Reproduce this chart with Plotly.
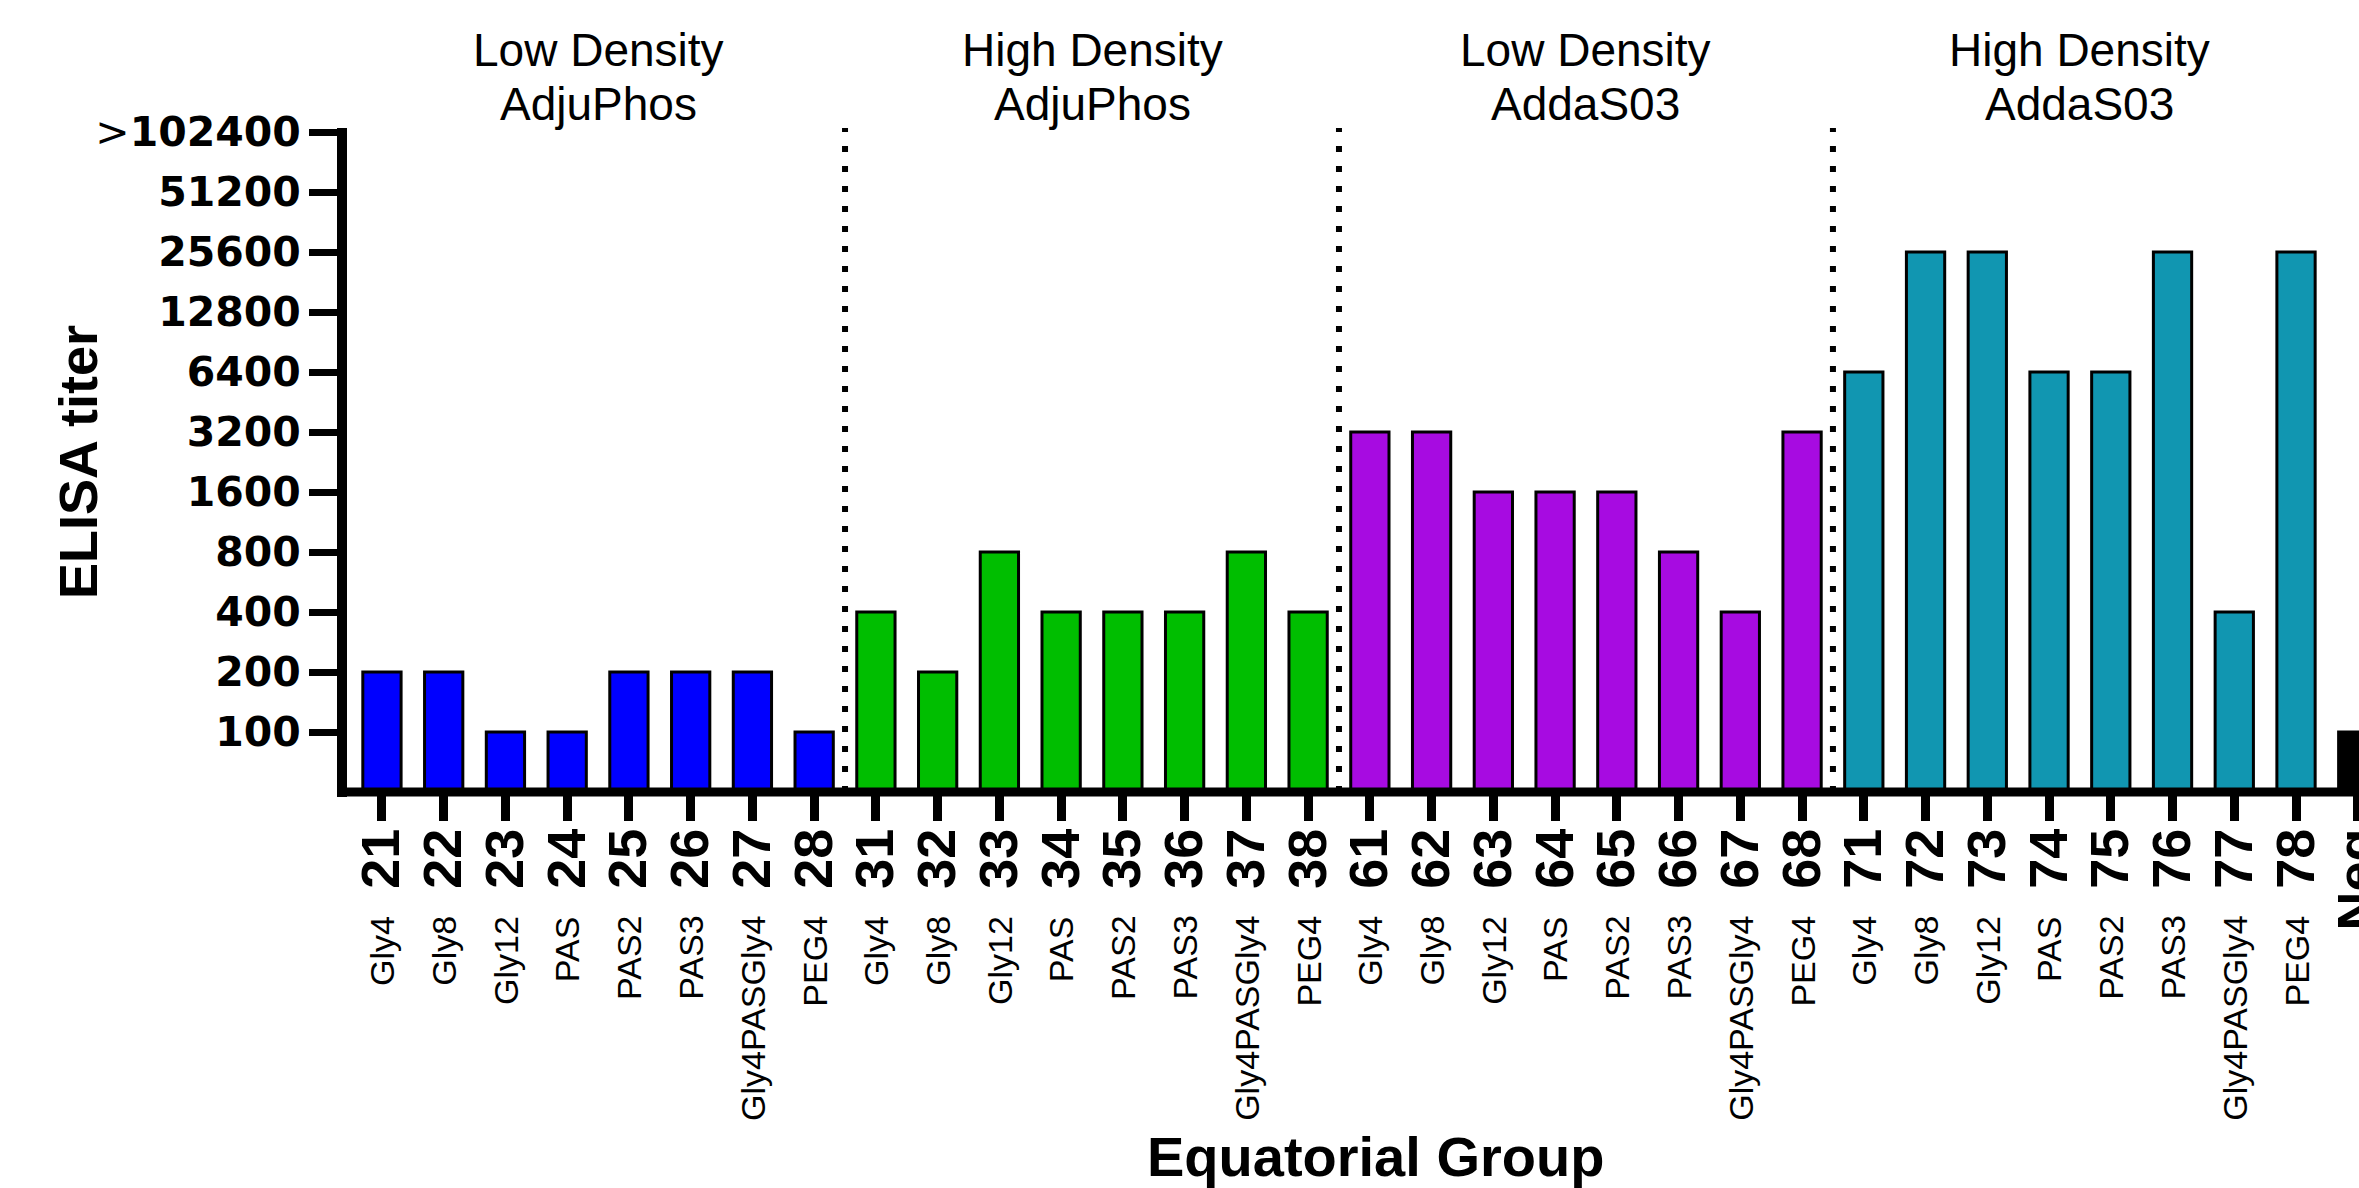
import math
import plotly.graph_objects as go

# ---- data -------------------------------------------------------------
GROUP_NUMBERS = [
    ["21", "22", "23", "24", "25", "26", "27", "28"],
    ["31", "32", "33", "34", "35", "36", "37", "38"],
    ["61", "62", "63", "64", "65", "66", "67", "68"],
    ["71", "72", "73", "74", "75", "76", "77", "78"],
]
NEG_LABEL = "Neg"
LINKERS = ["Gly4", "Gly8", "Gly12", "PAS", "PAS2", "PAS3", "Gly4PASGly4", "PEG4"]
GROUP_HEADERS = [
    ("Low Density", "AdjuPhos"),
    ("High Density", "AdjuPhos"),
    ("Low Density", "AddaS03"),
    ("High Density", "AddaS03"),
]
TITERS_LD_ADJUPHOS = [200, 200, 100, 100, 200, 200, 200, 100]
TITERS_HD_ADJUPHOS = [400, 200, 800, 400, 400, 400, 800, 400]
TITERS_LD_ADDAS03 = [3200, 3200, 1600, 1600, 1600, 800, 400, 3200]
TITERS_HD_ADDAS03 = [6400, 25600, 25600, 6400, 6400, 25600, 400, 25600]
TITER_NEG = 100

Y_TICKS = [100, 200, 400, 800, 1600, 3200, 6400, 12800, 25600, 51200, 102400]
Y_TICK_TEXT = ["100", "200", "400", "800", "1600", "3200", "6400", "12800",
               "25600", "51200",
               '<span style="font-weight:normal">&gt;</span>102400']
Y_MIN, Y_MAX = 50, 102400

GROUP_COLORS = ["#0000FF", "#00BE00", "#A70BE1", "#1196B1"]
NEG_COLOR = "#000000"

# ---- assemble one bar trace over all categories -----------------------
group_titers = [TITERS_LD_ADJUPHOS, TITERS_HD_ADJUPHOS,
                TITERS_LD_ADDAS03, TITERS_HD_ADDAS03]
categories, values, colors = [], [], []
for nums, vals, col in zip(GROUP_NUMBERS, group_titers, GROUP_COLORS):
    categories += nums
    values += vals
    colors += [col] * len(nums)
categories.append(NEG_LABEL)
values.append(TITER_NEG)
colors.append(NEG_COLOR)

FONT = "Liberation Sans, Arial, Helvetica, sans-serif"
AXIS_W = 10

fig = go.Figure()
fig.add_trace(go.Bar(
    x=categories, y=values,
    width=0.62,
    marker=dict(color=colors, line=dict(color="black", width=3)),
    hoverinfo="x+y",
    showlegend=False,
))

W, H = 2359, 1188
L, R, T, B = 342, 0, 132, 396
plot_h = H - T - B

def paper_y(py):
    return (H - B - py) / plot_h

annotations = []
# linker names under the group numbers (positioned by category index)
idx = 0
for nums in GROUP_NUMBERS:
    for name in LINKERS[:len(nums)]:
        annotations.append(dict(
            x=idx, xref="x", y=paper_y(914), yref="paper",
            text=name, textangle=-90, showarrow=False,
            xanchor="center", yanchor="top",
            font=dict(family=FONT, size=34, color="black"),
        ))
        idx += 1
# group headers
for g, (line1, line2) in enumerate(GROUP_HEADERS):
    xc = g * 8 + 3.5
    for txt, py in ((line1, 50), (line2, 104)):
        annotations.append(dict(
            x=xc, xref="x", y=paper_y(py), yref="paper",
            text=txt, showarrow=False, xanchor="center", yanchor="middle",
            font=dict(family=FONT, size=46, color="black"),
        ))
# axis titles
annotations.append(dict(
    x=(1375 - L) / (W - L - R), xref="paper", y=paper_y(1156), yref="paper",
    text="<b>Equatorial Group</b>", showarrow=False,
    xanchor="center", yanchor="middle",
    font=dict(family=FONT, size=56, color="black"),
))
annotations.append(dict(
    x=(78 - L) / (W - L - R), xref="paper", y=0.5, yref="paper",
    text="<b>ELISA titer</b>", textangle=-90, showarrow=False,
    xanchor="center", yanchor="middle",
    font=dict(family=FONT, size=54, color="black"),
))

shapes = []
# dotted separators between the groups
for g in range(1, 4):
    shapes.append(dict(
        type="line", xref="x", yref="paper",
        x0=g * 8 - 0.5, x1=g * 8 - 0.5, y0=0, y1=paper_y(128),
        line=dict(color="black", width=6, dash="6px,14px"),
        layer="above",
    ))
# thick axis lines
shapes.append(dict(
    type="line", xref="paper", yref="paper",
    x0=0, x1=0, y0=paper_y(797), y1=paper_y(128),
    line=dict(color="black", width=AXIS_W), layer="above",
))
shapes.append(dict(
    type="line", xref="paper", yref="paper",
    x0=-5 / (W - L - R), x1=1.0, y0=0, y1=0,
    line=dict(color="black", width=9), layer="above",
))

fig.update_layout(
    width=W, height=H,
    margin=dict(l=L, r=R, t=T, b=B, pad=0),
    paper_bgcolor="white", plot_bgcolor="white",
    template="none",
    annotations=annotations,
    shapes=shapes,
    xaxis=dict(
        type="category",
        range=[-0.647, 32.02],
        tickmode="array", tickvals=categories, ticktext=categories,
        tickangle=-90,
        ticks="outside", ticklen=28, tickwidth=9, tickcolor="black",
        showline=False, showgrid=False, zeroline=False,
        tickfont=dict(family=FONT, size=54, color="black", weight="bold"),
        ticklabelstandoff=-14,
        automargin=False,
    ),
    yaxis=dict(
        type="log",
        range=[math.log10(Y_MIN), math.log10(Y_MAX)],
        tickvals=Y_TICKS, ticktext=Y_TICK_TEXT,
        ticks="outside", ticklen=32, tickwidth=7, tickcolor="black",
        showline=False, showgrid=False, zeroline=False,
        tickfont=dict(family="DejaVu Sans, sans-serif", size=41,
                      color="black", weight="bold"),
        ticklabelstandoff=0,
        automargin=False,
    ),
)

fig.write_html("out.html")
